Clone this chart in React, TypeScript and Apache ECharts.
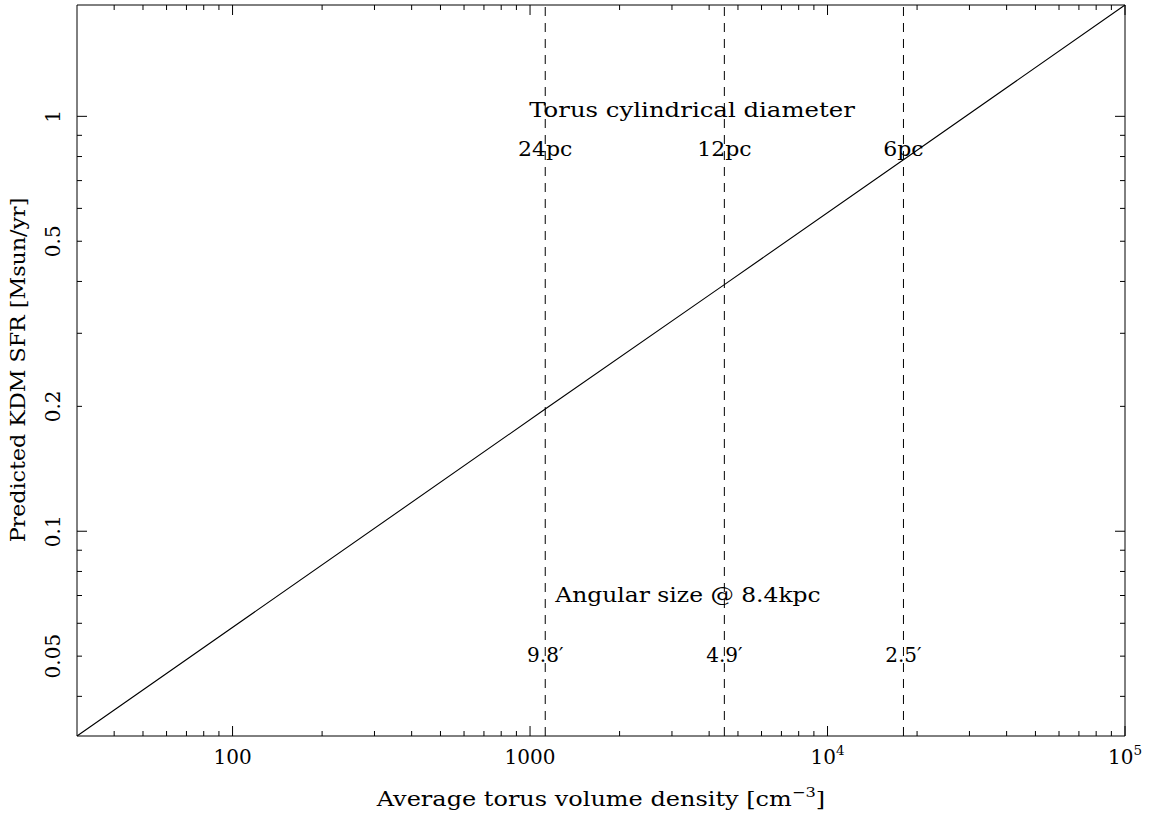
import React, { useEffect, useRef } from "react";
import * as echarts from "echarts";

// ---- data ----
const X_MIN = 30;
const X_MAX = 100000;
const Y_MIN = 0.0321;
const Y_MAX = 1.855;

const densities = [30, 1125, 4500, 18000, 100000];
const sfr = [0.0321, 0.197, 0.393, 0.786, 1.855];

const torusDensities = [1125, 4500, 18000];
const diameterLabels = ["24pc", "12pc", "6pc"];
const angularLabels = ["9.8\u2032", "4.9\u2032", "2.5\u2032"];

const xMajorTicks = [100, 1000, 10000, 100000];
const xTickLabels = ["100", "1000", "10^4", "10^5"];
const xMinorTicks = [
  40, 50, 60, 70, 80, 90,
  200, 300, 400, 500, 600, 700, 800, 900,
  2000, 3000, 4000, 5000, 6000, 7000, 8000, 9000,
  20000, 30000, 40000, 50000, 60000, 70000, 80000, 90000,
];

const yMajorTicks = [0.1, 1];
const yMinorTicks = [
  0.04, 0.05, 0.06, 0.07, 0.08, 0.09,
  0.2, 0.3, 0.4, 0.5, 0.6, 0.7, 0.8, 0.9,
];
const yLabelValues = [0.05, 0.1, 0.2, 0.5, 1];
const yTickLabels = ["0.05", "0.1", "0.2", "0.5", "1"];

const headingDiameter = "Torus cylindrical diameter";
const headingAngular = "Angular size @ 8.4kpc";
const xTitle = "Average torus volume density [cm^\u22123^]";
const yTitle = "Predicted KDM SFR [Msun/yr]";

// ---- styles ----
const FONT_NAME = "DejaVu Serif";
const FONT = `"${FONT_NAME}", serif`;
const FS = 20;
const SUP = 13.5;
const SUP_RAISE = 7;
const INK = "#000";

let measureCtx: CanvasRenderingContext2D | null = null;
function textWidth(text: string, size: number) {
  if (!measureCtx) measureCtx = document.createElement("canvas").getContext("2d");
  if (!measureCtx) return text.length * size * 0.6;
  measureCtx.font = `${size}px "${FONT_NAME}"`;
  return measureCtx.measureText(text).width;
}

// Text with superscripts: "base^sup^base" (odd parts are superscripts), centred on x.
function supTextElements(label: string, cx: number, cy: number, sx = 1) {
  const parts = label.split("^");
  const sizes = parts.map((_, i) => (i % 2 ? SUP : FS));
  const widths = parts.map((p, i) => textWidth(p, sizes[i]) * sx);
  const total = widths.reduce((a, b) => a + b, 0);
  let x = cx - total / 2;
  const els: any[] = [];
  parts.forEach((p, i) => {
    if (p) {
      els.push({
        type: "text",
        x,
        y: i % 2 ? cy - SUP_RAISE : cy,
        scaleX: sx,
        style: {
          text: p,
          fontFamily: FONT,
          fontSize: sizes[i],
          fill: INK,
          align: "left",
          verticalAlign: "middle",
        },
      });
    }
    x += widths[i];
  });
  return els;
}

export default function App() {
  const ref = useRef<HTMLDivElement>(null);

  useEffect(() => {
    if (!ref.current) return;
    const chart = echarts.init(ref.current, null, { renderer: "svg" });

    const tickLine = (x1: number, y1: number, x2: number, y2: number) => ({
      type: "line",
      shape: { x1, y1, x2, y2 },
      style: { stroke: INK, lineWidth: 1 },
    });

    const plainText = (text: string, x: number, y: number, sx: number, rotation = 0) => ({
      type: "text",
      x,
      y,
      rotation,
      scaleX: sx,
      style: { text, fontFamily: FONT, fontSize: FS, fill: INK, align: "center", verticalAlign: "middle" },
    });

    const option: any = {
      animation: false,
      backgroundColor: "#fff",
      grid: {
        left: 77,
        right: 24,
        top: 5,
        bottom: 85,
        show: true,
        borderColor: INK,
        borderWidth: 1,
        backgroundColor: "transparent",
      },
      xAxis: {
        type: "log",
        logBase: 10,
        min: X_MIN,
        max: X_MAX,
        axisLine: { show: false },
        axisTick: { show: false },
        axisLabel: { show: false },
        splitLine: { show: false },
      },
      yAxis: {
        type: "log",
        logBase: 10,
        min: Y_MIN,
        max: Y_MAX,
        axisLine: { show: false },
        axisTick: { show: false },
        axisLabel: { show: false },
        splitLine: { show: false },
      },
      graphic: [
        plainText(headingDiameter, 692, 109.5, 1.22),
        plainText(headingAngular, 688, 595, 1.17),
        plainText(yTitle, 18, 370, 1.11, Math.PI / 2),
        { type: "group", children: supTextElements(xTitle, 601, 799, 1.2) },
      ],
      series: [
        {
          type: "line",
          data: densities.map((d, i) => [d, sfr[i]]),
          showSymbol: false,
          symbol: "none",
          lineStyle: { color: INK, width: 1.1 },
          silent: true,
          z: 4,
        },
        ...torusDensities.map((d) => ({
          type: "line",
          data: [
            [d, Y_MIN],
            [d, Y_MAX],
          ],
          showSymbol: false,
          symbol: "none",
          lineStyle: { color: INK, width: 1, type: [9, 7] },
          silent: true,
          z: 3,
        })),
        // x ticks (bottom + top)
        {
          type: "custom",
          coordinateSystem: "cartesian2d",
          silent: true,
          z: 5,
          encode: { x: 0, y: 1 },
          data: [
            ...xMajorTicks.map((v) => [v, Y_MIN, 10]),
            ...xMinorTicks.map((v) => [v, Y_MIN, 5]),
          ],
          renderItem: (params: any, api: any) => {
            const cs = params.coordSys;
            const px = api.coord([api.value(0), Y_MIN])[0];
            const len = api.value(2);
            const bottom = cs.y + cs.height;
            return {
              type: "group",
              children: [tickLine(px, bottom, px, bottom - len), tickLine(px, cs.y, px, cs.y + len)],
            };
          },
        },
        // y ticks (left + right)
        {
          type: "custom",
          coordinateSystem: "cartesian2d",
          silent: true,
          z: 5,
          encode: { x: 0, y: 1 },
          data: [
            ...yMajorTicks.map((v) => [X_MIN, v, 10]),
            ...yMinorTicks.map((v) => [X_MIN, v, 5]),
          ],
          renderItem: (params: any, api: any) => {
            const cs = params.coordSys;
            const py = api.coord([X_MIN, api.value(1)])[1];
            const len = api.value(2);
            const right = cs.x + cs.width;
            return {
              type: "group",
              children: [tickLine(cs.x, py, cs.x + len, py), tickLine(right, py, right - len, py)],
            };
          },
        },
        // x tick labels
        {
          type: "custom",
          coordinateSystem: "cartesian2d",
          silent: true,
          z: 5,
          encode: { x: 0, y: 1 },
          data: xMajorTicks.map((v, i) => [v, Y_MIN, i]),
          renderItem: (params: any, api: any) => {
            const cs = params.coordSys;
            const px = api.coord([api.value(0), Y_MIN])[0];
            const label = xTickLabels[api.value(2)];
            return {
              type: "group",
              children: supTextElements(label, px, cs.y + cs.height + 20.5, 1),
            };
          },
        },
        // y tick labels (rotated)
        {
          type: "custom",
          coordinateSystem: "cartesian2d",
          silent: true,
          z: 5,
          encode: { x: 0, y: 1 },
          data: yLabelValues.map((v, i) => [X_MIN, v, i]),
          renderItem: (params: any, api: any) => {
            const cs = params.coordSys;
            const py = api.coord([X_MIN, api.value(1)])[1];
            return plainText(yTickLabels[api.value(2)], cs.x - 24, py, 1, Math.PI / 2);
          },
        },
        // labels on the dashed lines
        {
          type: "custom",
          coordinateSystem: "cartesian2d",
          silent: true,
          z: 6,
          encode: { x: 0, y: 1 },
          data: torusDensities.map((d, i) => [d, Y_MIN, i]),
          renderItem: (params: any, api: any) => {
            const i = api.value(2);
            const px = api.coord([api.value(0), Y_MIN])[0];
            const yDiam = api.coord([api.value(0), 0.833])[1];
            const yAng = api.coord([api.value(0), 0.0502])[1];
            return {
              type: "group",
              children: [plainText(diameterLabels[i], px, yDiam, 1.1), plainText(angularLabels[i], px, yAng, 1)],
            };
          },
        },
      ],
    };

    chart.setOption(option);
    return () => chart.dispose();
  }, []);

  return (
    <div
      ref={ref}
      style={{ position: "fixed", left: 0, top: 0, width: 1149, height: 821, background: "#fff" }}
    />
  );
}
